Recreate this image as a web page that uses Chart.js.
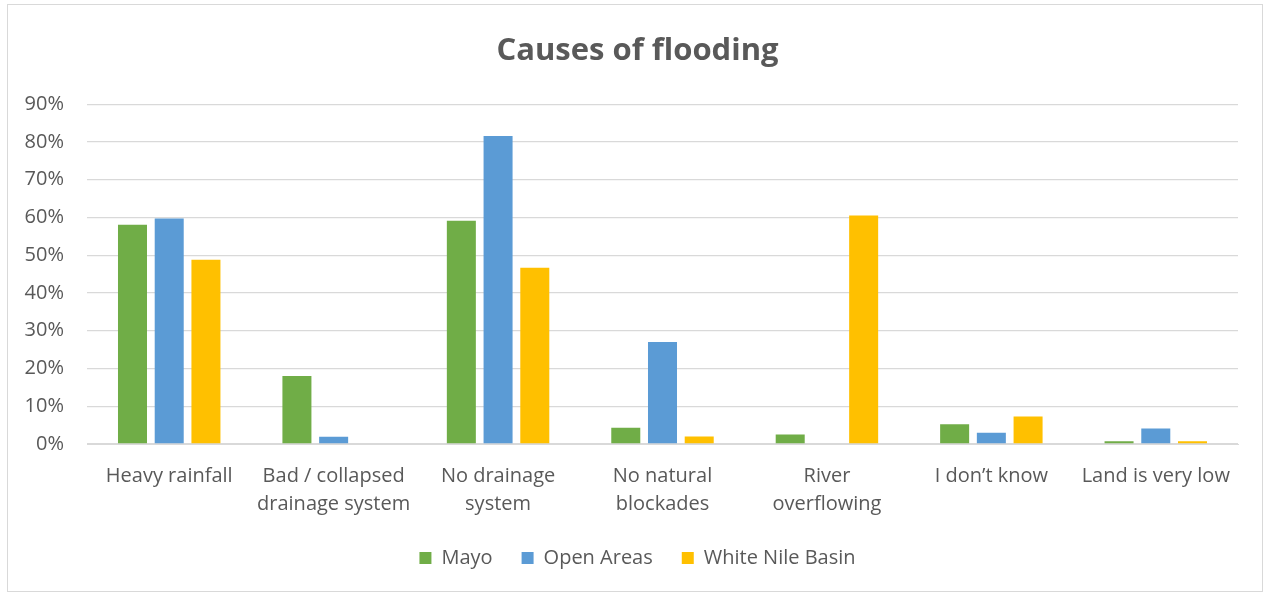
<!DOCTYPE html>
<html>
<head>
<meta charset="utf-8">
<script src="https://cdn.jsdelivr.net/npm/chart.js@4.4.1/dist/chart.umd.min.js"></script>
<style>
html,body{margin:0;padding:0;background:#fff;}
#wrap{position:absolute;left:0;top:0;width:1265px;height:595px;}
#frame{position:absolute;left:7px;top:4px;width:1256px;height:588px;border:1px solid #d9d9d9;box-sizing:border-box;pointer-events:none;}
canvas{position:absolute;left:0;top:0;}
</style>
</head>
<body>
<div id="wrap"><canvas id="c" width="1265" height="595"></canvas><div id="frame"></div></div>
<script>
const categories = [
  "Heavy rainfall",
  ["Bad / collapsed", "drainage system"],
  ["No drainage", "system"],
  ["No natural", "blockades"],
  ["River", "overflowing"],
  "I don\u2019t know",
  "Land is very low"
];
const mayo = [58.1, 18.0, 59.1, 4.3, 2.5, 5.2, 0.7];
const openAreas = [59.7, 1.9, 81.6, 27.0, 0, 3.0, 4.1];
const whiteNile = [48.8, 0, 46.7, 2.0, 60.5, 7.3, 0.7];
const yTicks = [0, 10, 20, 30, 40, 50, 60, 70, 80, 90];

const FONT = "'Open Sans', sans-serif";
const TXT = '#595959';

new Chart(document.getElementById('c'), {
  type: 'bar',
  data: {
    labels: categories,
    datasets: [
      {label: 'Mayo', data: mayo, backgroundColor: '#70AD47'},
      {label: 'Open Areas', data: openAreas, backgroundColor: '#5B9BD5'},
      {label: 'White Nile Basin', data: whiteNile, backgroundColor: '#FFC000'}
    ]
  },
  options: {
    responsive: false,
    animation: false,
    devicePixelRatio: 1,
    categoryPercentage: 0.67,
    barPercentage: 0.79,
    layout: {padding: {left: 10, right: 0, top: 0, bottom: 17}},
    plugins: {
      title: {
        display: true,
        text: 'Causes of flooding',
        color: TXT,
        font: {family: FONT, size: 31, weight: 'bold'},
        padding: {top: 33, bottom: 34}
      },
      legend: {
        position: 'bottom',
        labels: {
          color: TXT,
          font: {family: FONT, size: 20},
          boxWidth: 12,
          boxHeight: 12,
          padding: 29
        }
      },
      tooltip: {enabled: false}
    },
    scales: {
      x: {
        grid: {display: false, drawTicks: false},
        border: {display: true, color: '#d9d9d9', width: 1},
        ticks: {color: TXT, font: {family: FONT, size: 20, lineHeight: 1.4}, padding: 18, maxRotation: 0, autoSkip: false},
        afterFit: function(s){ s.height = 75; }
      },
      y: {
        min: 0, max: 90,
        afterBuildTicks: function(s){ s.ticks = yTicks.map(v => ({value: v})); },
        grid: {color: '#d9d9d9', lineWidth: 1.3, drawTicks: false},
        border: {display: false},
        ticks: {color: TXT, font: {family: FONT, size: 20}, padding: 23, callback: v => v + '%'},
        afterFit: function(s){ s.width = 77; }
      },
      yRight: {
        position: 'right',
        display: true,
        grid: {display: false, drawTicks: false},
        border: {display: false},
        ticks: {display: false},
        afterFit: function(s){ s.width = 27; }
      }
    }
  }
});
</script>
</body>
</html>
